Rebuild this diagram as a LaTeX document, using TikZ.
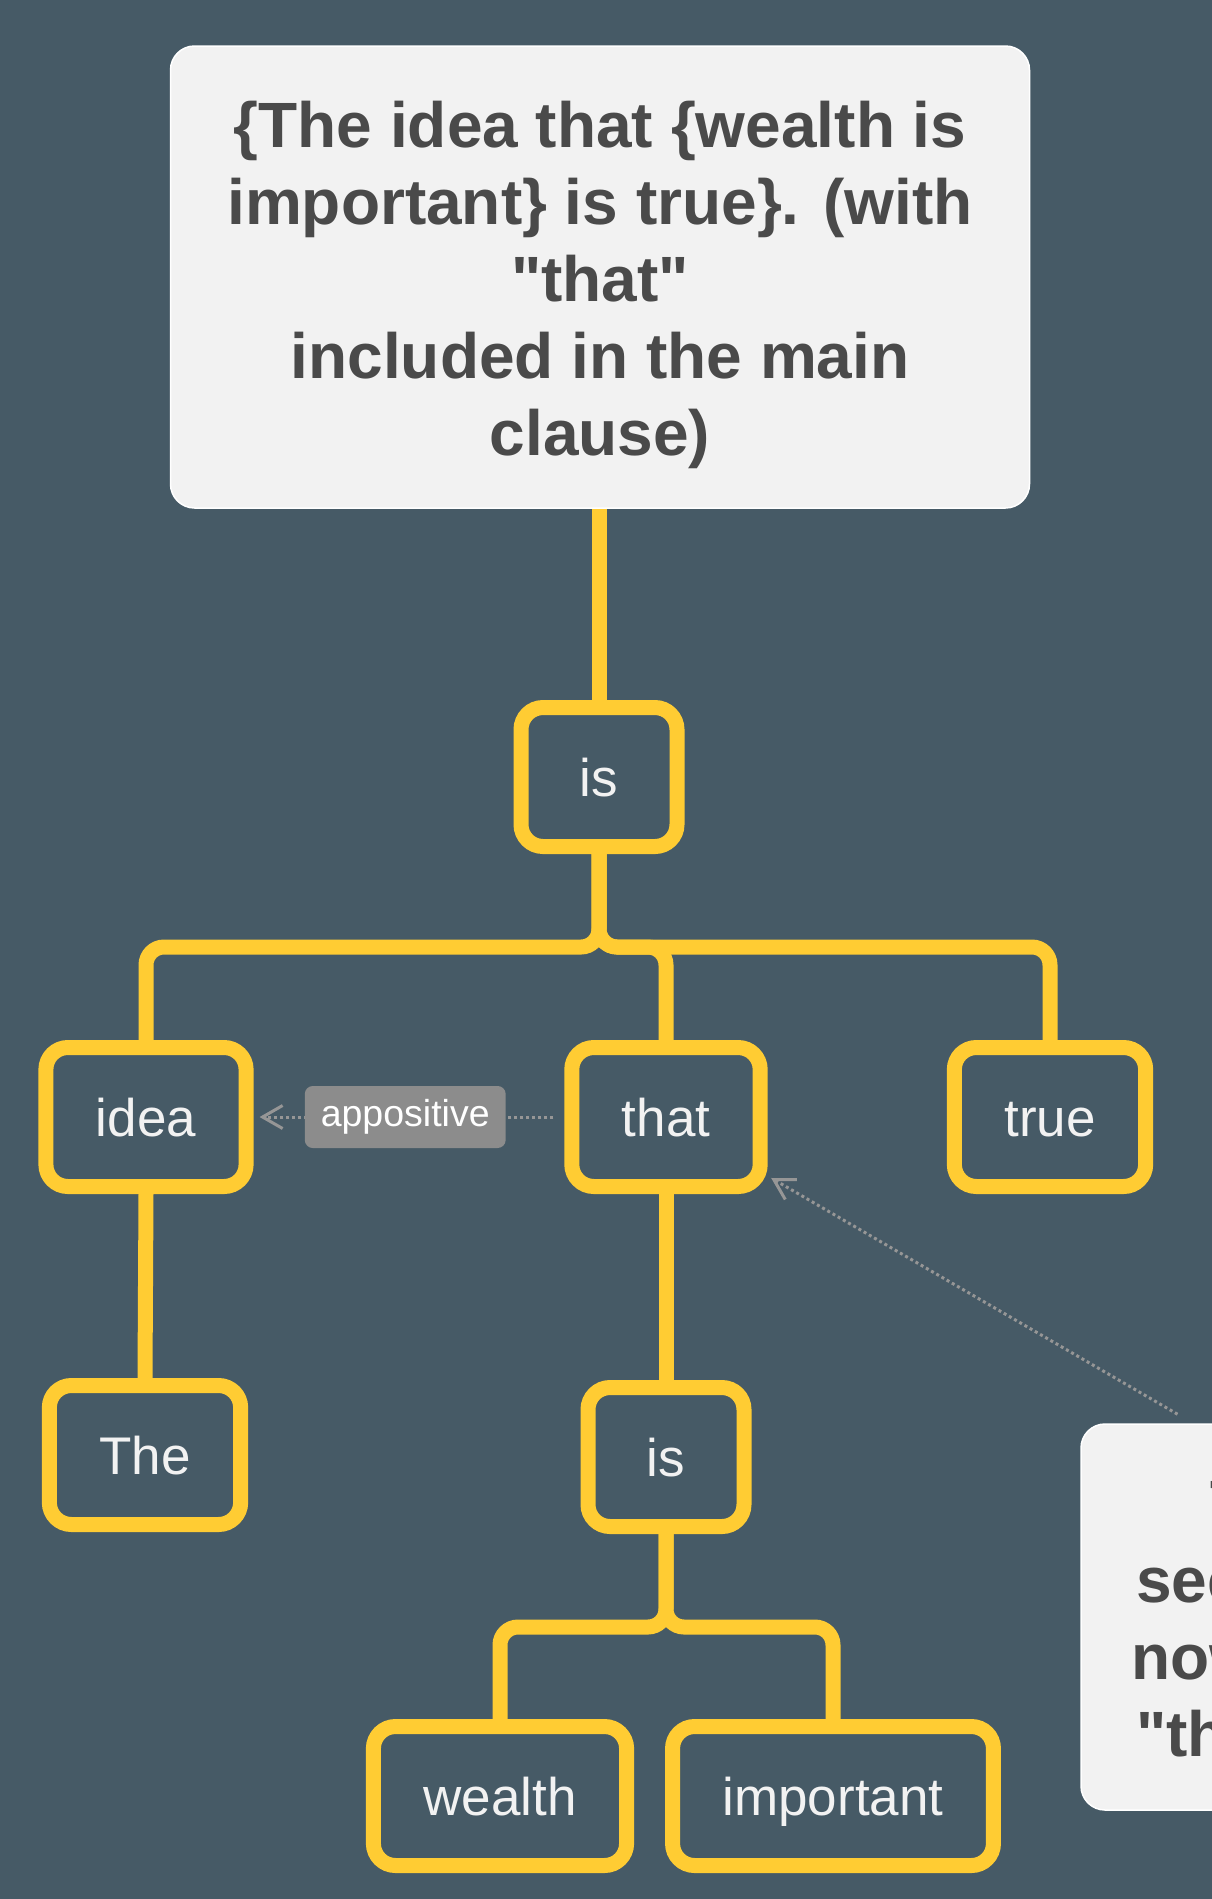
\documentclass[tikz,border=0pt]{standalone}
\usepackage{fontspec}
\setmainfont{Liberation Sans}
\usetikzlibrary{arrows.meta,calc,positioning}
\definecolor{slate}{RGB}{70,90,102}
\definecolor{gold}{RGB}{255,204,51}
\definecolor{paper}{RGB}{242,242,242}
\definecolor{ink}{RGB}{74,74,74}
\definecolor{tagfill}{RGB}{140,140,140}
\definecolor{dots}{RGB}{150,150,150}

\begin{document}
\begin{tikzpicture}[x=1pt, y=-1pt,
    word/.style={draw=gold, line width=15pt, fill=slate, rounded corners=22pt,
      minimum width=156pt, minimum height=139pt, inner xsep=50pt, text=paper,
      font=\fontsize{53}{60}\selectfont, text height=38pt, text depth=0pt},
    card/.style={draw=white, line width=1.5pt, fill=paper, rounded corners=24pt,
      text=ink, align=center, font=\bfseries\fontsize{64}{77}\selectfont},
    branch/.style={draw=gold, line width=15pt, rounded corners=18pt},
    relation/.style={dots, line width=3pt, dash pattern=on 3pt off 3pt,
      -{Straight Barb[length=20pt, width=23pt, line width=3pt]}},
    tag/.style={fill=tagfill, rounded corners=8pt, text=white, minimum height=62pt,
      inner xsep=16pt, font=\fontsize{37.5}{40}\selectfont}]
    % levels of the horizontal bars
    \def\busa{947}
    \def\busb{1627}
    \def\rowa{1117}
    \def\q{\textquotedbl}
    \def\lift{\rule{0pt}{62pt}}

    \useasboundingbox (0,0) rectangle (1212,1899);
    \fill[slate] (0,0) rectangle (1212,1899);

    % sentence boxes
    \node[card, minimum width=859pt, minimum height=462pt] (title) at (600,277)
      {\lift\{The idea that \{wealth is\\important\} is true\}. (with\\\q that\q\\included in the main\\clause)};
    \node[card, minimum width=886pt, minimum height=386pt] (note) at (1524,1617)
      {\lift The second analysis\\seems to be more natural\\now that the noun takes a\\\q that\q\ as its complement)};

    % word nodes
    \node[word] (is1) at (599,777) {is};
    \node[word] (idea) at (146,\rowa) {idea};
    \node[word] (that) at (666,\rowa) {that};
    \node[word] (true) at (1050,\rowa) {true};
    \node[word] (The) at (145,1455) {The};
    \node[word] (is2) at (666,1457) {is};
    \node[word] (wealth) at (500,1796) {wealth};
    \node[word] (important) at (833,1796) {important};

    % tree edges
    \draw[branch] (is1.north |- title.south) -- (is1.north);
    \foreach \kid in {idea,that,true} {
      \draw[branch] (is1.south) -- (is1.south |- 0,\busa) -- (\kid.north |- 0,\busa) -- (\kid.north);
    }
    \draw[branch] (idea.south) -- (The.north);
    \draw[branch] (that.south) -- (is2.north);
    \foreach \kid in {wealth,important} {
      \draw[branch] (is2.south) -- (is2.south |- 0,\busb) -- (\kid.north |- 0,\busb) -- (\kid.north);
    }

    % dotted relations
    \draw[relation, shorten <=11pt, shorten >=6pt] (that.west) -- node[tag, pos=0.512] (appos) {appositive} (idea.east);
    \draw[relation, shorten <=18pt, shorten >=4pt] (note) -- (that);
\end{tikzpicture}
\end{document}
